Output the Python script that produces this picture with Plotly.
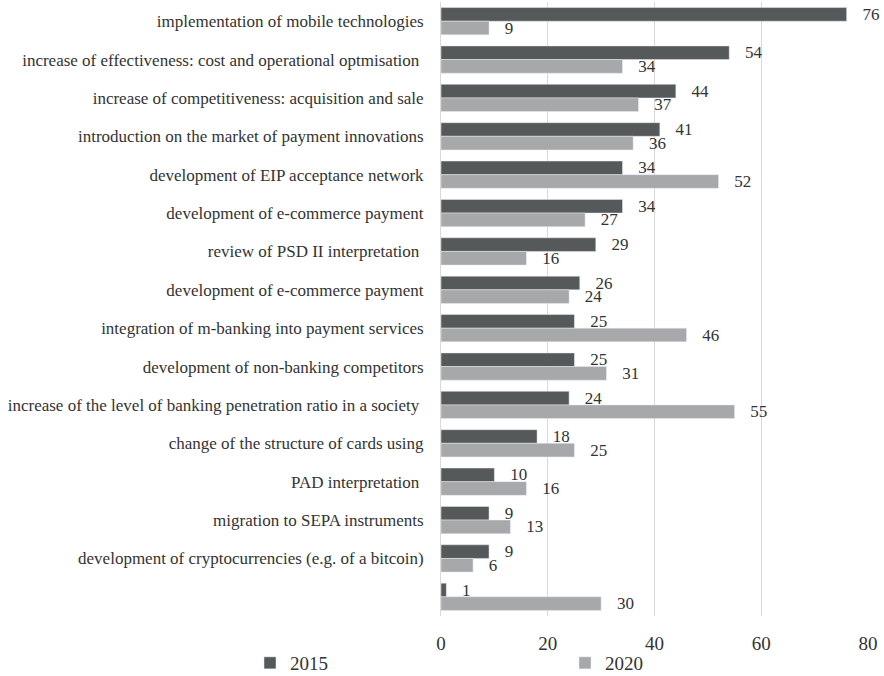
import plotly.graph_objects as go

categories = [
    "implementation of mobile technologies",
    "increase of effectiveness: cost and operational optmisation ",
    "increase of competitiveness: acquisition and sale",
    "introduction on the market of payment innovations",
    "development of EIP acceptance network",
    "development of e-commerce payment",
    "review of PSD II interpretation ",
    "development of e-commerce payment",
    "integration of m-banking into payment services",
    "development of non-banking competitors",
    "increase of the level of banking penetration ratio in a society ",
    "change of the structure of cards using",
    "PAD interpretation ",
    "migration to SEPA instruments",
    "development of cryptocurrencies (e.g. of a bitcoin)",
    "",
]
values_2015 = [76, 54, 44, 41, 34, 34, 29, 26, 25, 25, 24, 18, 10, 9, 9, 1]
values_2020 = [9, 34, 37, 36, 52, 27, 16, 24, 46, 31, 55, 25, 16, 13, 6, 30]
x_ticks = [0, 20, 40, 60, 80]

positions = list(range(len(categories)))
FONT = "Liberation Serif"
pad = "\u00a0\u00a0\u00a0"

fig = go.Figure()
fig.add_trace(go.Bar(
    name="2015", y=positions, x=values_2015, orientation="h",
    marker=dict(color="#56595A"),
    text=[pad + str(v) for v in values_2015], textposition="outside",
    textfont=dict(family=FONT, size=17, color="#333333"),
    cliponaxis=False, constraintext="none", legend="legend",
))
fig.add_trace(go.Bar(
    name="2020", y=positions, x=values_2020, orientation="h",
    marker=dict(color="#A6A8A9"),
    text=[pad + str(v) for v in values_2020], textposition="outside",
    textfont=dict(family=FONT, size=17, color="#333333"),
    cliponaxis=False, constraintext="none", legend="legend2",
))

ML, MR = 441, 16
plot_w = 884 - ML - MR


def px_to_x(p):
    return (p - ML) / plot_w


legend_font = dict(family=FONT, size=19, color="#333333")
leg_y = 1 - 663 / 676
fig.update_layout(
    width=884, height=676,
    margin=dict(l=ML, r=MR, t=2, b=60, autoexpand=False),
    barmode="group", bargap=0.29, bargroupgap=0,
    plot_bgcolor="white", paper_bgcolor="white",
    font=dict(family=FONT, color="#333333"),
    showlegend=True,
    legend=dict(orientation="h", x=px_to_x(250), xanchor="left",
                yref="container", y=leg_y, yanchor="middle",
                font=legend_font, bgcolor="rgba(0,0,0,0)"),
    legend2=dict(orientation="h", x=px_to_x(565), xanchor="left",
                 yref="container", y=leg_y, yanchor="middle",
                 font=legend_font, bgcolor="rgba(0,0,0,0)"),
    xaxis=dict(range=[0, 80], tickvals=x_ticks, showgrid=True, gridcolor="#D9D9D9",
               gridwidth=1, zeroline=False, showline=False,
               tickfont=dict(family=FONT, size=19, color="#333333"),
               ticklabelstandoff=14),
    yaxis=dict(tickvals=positions, ticktext=categories, autorange="reversed",
               range=[len(categories) - 0.5, -0.5],
               showline=True, linecolor="#D9D9D9", linewidth=1,
               showgrid=False, zeroline=False, ticks="",
               tickfont=dict(family=FONT, size=17, color="#333333"),
               ticklabelstandoff=13),
)

fig.write_html("out.html", config={"displayModeBar": False},
               post_script="document.body.style.margin='0';")
